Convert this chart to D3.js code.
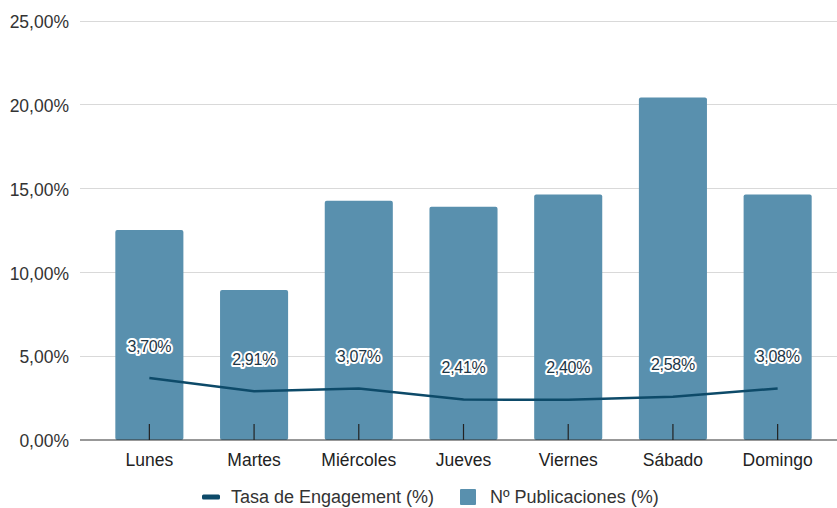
<!DOCTYPE html>
<html>
<head>
<meta charset="utf-8">
<script src="https://cdn.jsdelivr.net/npm/d3@7"></script>
<style>
  body { margin: 0; background: #fff; }
  text { font-family: "Liberation Sans", Arial, sans-serif; }
</style>
</head>
<body>
<div id="chart"></div>
<script>
const days = ["Lunes", "Martes", "Miércoles", "Jueves", "Viernes", "Sábado", "Domingo"];
const publicaciones = [12.53, 8.95, 14.27, 13.92, 14.65, 20.43, 14.65];
const engagement = [3.70, 2.91, 3.07, 2.41, 2.40, 2.58, 3.08];
const yTicks = [0, 5, 10, 15, 20, 25];

const W = 837, H = 508;
const margin = {top: 21, right: 7, bottom: 68, left: 97};
const gridLeft = 80;

const svg = d3.select("#chart").append("svg")
    .attr("width", W)
    .attr("height", H);

const x = d3.scaleBand()
    .domain(days)
    .range([margin.left, W - margin.right])
    .paddingInner(0.35)
    .paddingOuter(0.175);

const y = d3.scaleLinear()
    .domain([0, 25])
    .range([H - margin.bottom, margin.top]);

const fmt = v => v.toFixed(2).replace(".", ",") + "%";

// grid lines
svg.selectAll("line.grid").data(yTicks.slice(1))
    .enter().append("line")
    .attr("class", "grid")
    .attr("x1", gridLeft).attr("x2", W)
    .attr("y1", d => y(d)).attr("y2", d => y(d))
    .attr("stroke", "#d9d9d9")
    .attr("stroke-width", 1)
    .attr("shape-rendering", "crispEdges");

// y labels
svg.selectAll("text.ylab").data(yTicks)
    .enter().append("text")
    .attr("class", "ylab")
    .attr("x", 69)
    .attr("y", d => y(d) + 1)
    .attr("dy", "0.35em")
    .attr("text-anchor", "end")
    .attr("font-size", 17.5)
    .attr("fill", "#333")
    .text(d => fmt(d));

// bars
svg.selectAll("rect.bar").data(publicaciones)
    .enter().append("rect")
    .attr("class", "bar")
    .attr("x", (d, i) => x(days[i]))
    .attr("width", x.bandwidth())
    .attr("y", d => y(d))
    .attr("height", d => y(0) - y(d))
    .attr("rx", 2)
    .attr("fill", "#5990ae");

// baseline
svg.append("line")
    .attr("x1", gridLeft).attr("x2", W)
    .attr("y1", y(0)).attr("y2", y(0))
    .attr("stroke", "#333")
    .attr("stroke-width", 1.2);

// ticks
svg.selectAll("line.tick").data(days)
    .enter().append("line")
    .attr("class", "tick")
    .attr("x1", d => x(d) + x.bandwidth() / 2)
    .attr("x2", d => x(d) + x.bandwidth() / 2)
    .attr("y1", y(0) - 16).attr("y2", y(0))
    .attr("stroke", "#222")
    .attr("stroke-width", 1.2);

// x labels
svg.selectAll("text.xlab").data(days)
    .enter().append("text")
    .attr("class", "xlab")
    .attr("x", d => x(d) + x.bandwidth() / 2)
    .attr("y", y(0) + 20)
    .attr("dy", "0.35em")
    .attr("text-anchor", "middle")
    .attr("font-size", 17.5)
    .attr("fill", "#222")
    .text(d => d);

// engagement line (same y scale)
const line = d3.line()
    .x((d, i) => x(days[i]) + x.bandwidth() / 2)
    .y(d => y(d));

svg.append("path")
    .datum(engagement)
    .attr("fill", "none")
    .attr("stroke", "#0d4a69")
    .attr("stroke-width", 2.5)
    .attr("d", line);

// data labels with white halo
svg.selectAll("text.dlab").data(engagement)
    .enter().append("text")
    .attr("class", "dlab")
    .attr("x", (d, i) => x(days[i]) + x.bandwidth() / 2)
    .attr("y", d => y(d) - 32)
    .attr("dy", "0.35em")
    .attr("text-anchor", "middle")
    .attr("font-family", "Roboto, sans-serif")
    .attr("font-size", 16)
    .attr("font-weight", 500)
    .attr("letter-spacing", -0.3)
    .attr("fill", "#1c3646")
    .attr("stroke", "#fff")
    .attr("stroke-width", 4)
    .attr("paint-order", "stroke")
    .attr("stroke-linejoin", "round")
    .text(d => fmt(d));

// legend
const leg = svg.append("g").attr("transform", "translate(0,497)");
leg.append("rect")
    .attr("x", 202).attr("y", -2.5)
    .attr("width", 18).attr("height", 5)
    .attr("rx", 1.5)
    .attr("fill", "#0d4a69");
leg.append("text")
    .attr("x", 231).attr("dy", "0.35em")
    .attr("font-size", 18).attr("fill", "#333")
    .text("Tasa de Engagement (%)");
leg.append("rect")
    .attr("x", 460).attr("y", -8)
    .attr("width", 16).attr("height", 16)
    .attr("rx", 1)
    .attr("fill", "#5990ae");
leg.append("text")
    .attr("x", 490).attr("dy", "0.35em")
    .attr("font-size", 18).attr("fill", "#333")
    .text("Nº Publicaciones (%)");
</script>
</body>
</html>
